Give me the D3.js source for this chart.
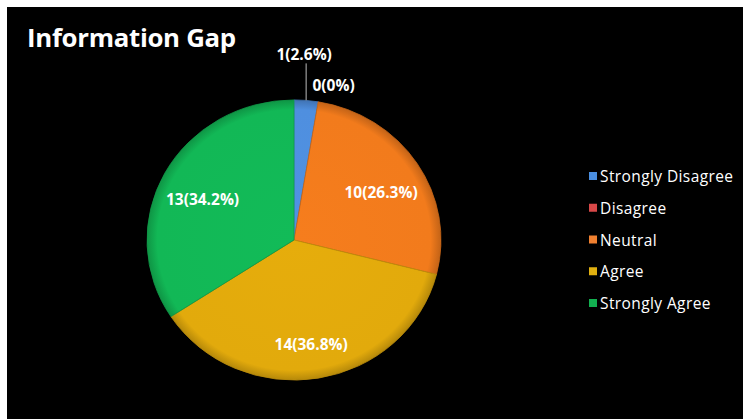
<!DOCTYPE html>
<html>
<head>
<meta charset="utf-8">
<script src="https://cdn.jsdelivr.net/npm/d3@7"></script>
<style>
html,body{margin:0;padding:0;background:#fff;}
svg{display:block;}
</style>
</head>
<body>
<svg id="chart" width="743" height="419"></svg>
<script>
const categories = ["Strongly Disagree", "Disagree", "Neutral", "Agree", "Strongly Agree"];
const counts = [1, 0, 10, 14, 13];
const percents = ["2.6%", "0%", "26.3%", "36.8%", "34.2%"];
const colors = ["#4f8fdf", "#d9403f", "#f27b1c", "#e2aa0c", "#12b856"];
const legendColors = ["#4a8ee0", "#d84848", "#f08030", "#e0b010", "#12b050"];
const title = "Information Gap";

const FONT = "'Open Sans', Lato, sans-serif";
const svg = d3.select("#chart");
svg.append("rect").attr("x", 7).attr("y", 7).attr("width", 736).attr("height", 412).attr("fill", "#000");

svg.append("text").attr("x", 27).attr("y", 47)
  .style("font-family", FONT)
  .attr("fill", "#fff").attr("font-size", 25.8).attr("font-weight", "bold")
  .attr("letter-spacing", -0.3)
  .text(title);

const cx = 294, cy = 240, R = 147, sy = 0.953;
const data = categories.map((c, i) => ({cat: c, v: counts[i], p: percents[i], col: colors[i]}));
const pie = d3.pie().value(d => d.v).sort(null);
const arcs = pie(data);
const arc = d3.arc().innerRadius(0).outerRadius(R);

const defs = svg.append("defs");
arcs.forEach((a, i) => {
  const g = defs.append("radialGradient").attr("id", "g" + i)
    .attr("gradientUnits", "userSpaceOnUse").attr("cx", 0).attr("cy", 0).attr("r", R);
  const base = d3.color(a.data.col);
  g.append("stop").attr("offset", "0%").attr("stop-color", base.brighter(0.05));
  g.append("stop").attr("offset", "93%").attr("stop-color", base);
  g.append("stop").attr("offset", "100%").attr("stop-color", base.darker(0.6));
});

const pg = svg.append("g").attr("transform", `translate(${cx},${cy}) scale(1,${sy})`);
pg.selectAll("path").data(arcs.filter(a => a.data.v > 0)).join("path")
  .attr("d", arc)
  .attr("fill", a => `url(#g${arcs.indexOf(a)})`)
  .attr("stroke", a => d3.color(a.data.col).darker(0.5))
  .attr("stroke-width", 0.8);

const lab = svg.append("g").style("font-family", FONT);
arcs.forEach((a, i) => {
  const txt = `${a.data.v}(${a.data.p})`;
  const mid = (a.startAngle + a.endAngle) / 2;
  if (a.data.v / d3.sum(counts) > 0.1) {
    const r = 104;
    lab.append("text").attr("x", cx + Math.sin(mid) * r).attr("y", cy - Math.cos(mid) * r * sy + 6)
      .attr("text-anchor", "middle").attr("dominant-baseline", "central")
      .attr("fill", "#fff").attr("font-size", 15.5).attr("font-weight", "bold").text(txt);
  } else if (a.data.v > 0) {
    const x0 = cx + Math.sin(mid) * R, y0 = cy - Math.cos(mid) * R * sy;
    lab.append("line").attr("x1", x0).attr("y1", y0).attr("x2", x0).attr("y2", y0 - 37)
      .attr("stroke", "#bbb").attr("stroke-width", 1);
    lab.append("text").attr("x", x0 - 2).attr("y", y0 - 46)
      .attr("text-anchor", "middle").attr("dominant-baseline", "central")
      .attr("fill", "#fff").attr("font-size", 15.5).attr("font-weight", "bold").text(txt);
  } else {
    const x1 = cx + Math.sin(mid) * 155, y1 = cy - Math.cos(mid) * 155 * sy;
    lab.append("text").attr("x", x1 - 7).attr("y", y1 - 9)
      .attr("text-anchor", "start").attr("dominant-baseline", "central")
      .attr("fill", "#fff").attr("font-size", 15.5).attr("font-weight", "bold").text(txt);
  }
});

const ly = d3.scalePoint().domain(categories).range([176, 303]);
const lg = svg.append("g").style("font-family", FONT);
categories.forEach((c, i) => {
  lg.append("rect").attr("x", 589).attr("y", ly(c) - 4).attr("width", 8).attr("height", 8)
    .attr("fill", legendColors[i]);
  lg.append("text").attr("x", 600).attr("y", ly(c)).attr("dominant-baseline", "central")
    .attr("fill", "#fff").attr("font-size", 15.5).attr("letter-spacing", 0.4).text(c);
});
</script>
</body>
</html>
